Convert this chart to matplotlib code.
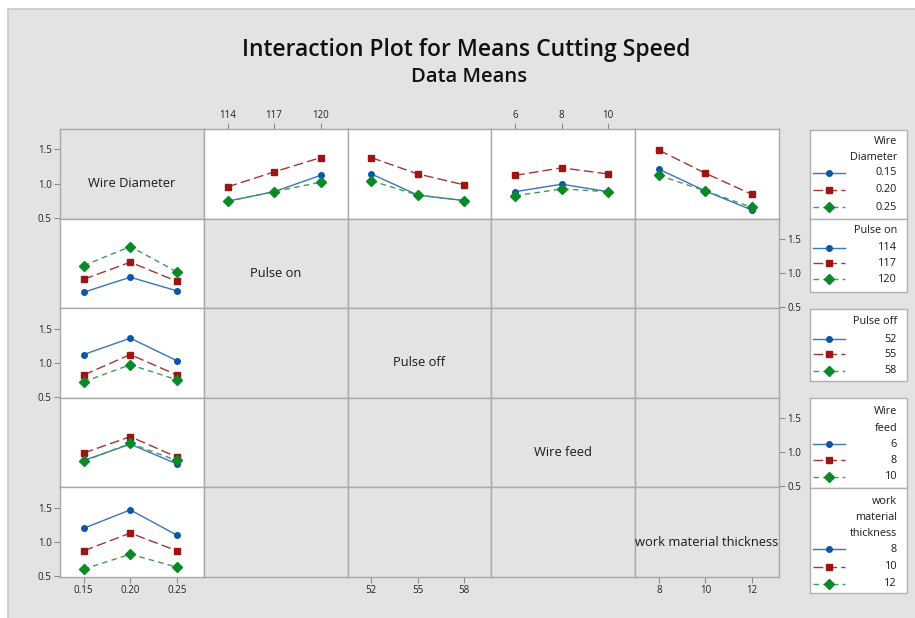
import numpy as np
import matplotlib.pyplot as plt
from matplotlib.patches import Rectangle

plt.rcParams['font.family'] = ['Open Sans', 'DejaVu Sans']

# factor names and levels
factors = ['Wire Diameter', 'Pulse on', 'Pulse off', 'Wire feed', 'work material thickness']
legend_titles = ['Wire\nDiameter', 'Pulse on', 'Pulse off', 'Wire\nfeed', 'work\nmaterial\nthickness']
wire_diam = ['0.15', '0.20', '0.25']
pulse_on = ['114', '117', '120']
pulse_off = ['52', '55', '58']
wire_feed = ['6', '8', '10']
thickness = ['8', '10', '12']
levels = [wire_diam, pulse_on, pulse_off, wire_feed, thickness]

# first row: x = factor j, traces = wire diameter (0.15, 0.20, 0.25)
wd_vs_pulse_on = [[0.74, 0.88, 1.12], [0.95, 1.17, 1.38], [0.74, 0.88, 1.02]]
wd_vs_pulse_off = [[1.14, 0.83, 0.75], [1.38, 1.14, 0.98], [1.04, 0.83, 0.75]]
wd_vs_wire_feed = [[0.88, 0.99, 0.88], [1.12, 1.23, 1.14], [0.82, 0.92, 0.88]]
wd_vs_thickness = [[1.21, 0.89, 0.61], [1.49, 1.15, 0.84], [1.12, 0.89, 0.65]]

# first column: x = wire diameter, traces = levels of factor i
pulse_on_vs_wd = [[0.72, 0.94, 0.74], [0.91, 1.16, 0.88], [1.11, 1.39, 1.02]]
pulse_off_vs_wd = [[1.12, 1.36, 1.03], [0.82, 1.12, 0.82], [0.72, 0.97, 0.75]]
wire_feed_vs_wd = [[0.88, 1.12, 0.83], [0.99, 1.23, 0.93], [0.87, 1.13, 0.88]]
thickness_vs_wd = [[1.20, 1.47, 1.10], [0.87, 1.13, 0.87], [0.60, 0.82, 0.63]]

row_data = {1: wd_vs_pulse_on, 2: wd_vs_pulse_off, 3: wd_vs_wire_feed, 4: wd_vs_thickness}
col_data = {1: pulse_on_vs_wd, 2: pulse_off_vs_wd, 3: wire_feed_vs_wd, 4: thickness_vs_wd}

# styles for the three traces
line_cols = ['#3a74bd', '#a53434', '#3f9c4f']
mark_cols = ['#0b56a6', '#9c1414', '#0a8a27']
markers = ['o', 's', 'D']
msizes = [4, 5, 5]
dashes = [None, (7, 3), (4, 3)]

W, H = 915, 618
fig = plt.figure(figsize=(W / 100, H / 100), dpi=100)
fig.patch.set_facecolor('white')

def px_axes(x0, y0, x1, y1, **kw):
    return fig.add_axes([x0 / W, 1 - y1 / H, (x1 - x0) / W, (y1 - y0) / H], **kw)

# background panel and overlay for text/legends
bg = px_axes(0, 0, W, H, zorder=-5)
bg.set_xlim(0, W)
bg.set_ylim(H, 0)
bg.axis('off')
bg.add_patch(Rectangle((8, 9), W, H, facecolor='#e3e3e3', edgecolor='#c8c8c8', lw=1.2))

bg.text(466, 50, 'Interaction Plot for Means Cutting Speed', ha='center', va='center',
        fontsize=16.5, fontweight='semibold', color='#111111')
bg.text(469, 77, 'Data Means', ha='center', va='center', fontsize=14.5,
        fontweight='semibold', color='#111111')

gx0, gx1, gy0, gy1 = 60, 779, 129, 577
cw = (gx1 - gx0) / 5
ch = (gy1 - gy0) / 5
xlim = (-0.51, 2.58)
ylim = (0.485, 1.80)
yt = [0.5, 1.0, 1.5]
grid_col = '#a9a9a9'

for i in range(5):
    for j in range(5):
        ax = px_axes(gx0 + j * cw, gy0 + i * ch, gx0 + (j + 1) * cw, gy0 + (i + 1) * ch)
        ax.set_xlim(*xlim)
        ax.set_ylim(*ylim)
        for s in ax.spines.values():
            s.set_color(grid_col)
            s.set_linewidth(1.0)
        ax.tick_params(length=4, width=0.8, color='#8c8c8c', labelsize=7,
                       labelcolor='#222222', pad=2)
        ax.set_xticks([])
        ax.set_yticks([])
        if (i == 0 and j > 0) or (j == 0 and i > 0):
            ax.set_facecolor('white')
            data = row_data[j] if i == 0 else col_data[i]
            xs = np.arange(3)
            for k in range(3):
                ln, = ax.plot(xs, data[k], color=line_cols[k], lw=1.0, marker=markers[k],
                              ms=msizes[k], mfc=mark_cols[k], mec=mark_cols[k])
                if dashes[k] is not None:
                    ln.set_dashes(dashes[k])
        else:
            ax.set_facecolor('#e3e3e3')
        if i == j:
            ax.text(0.5, 0.39, factors[i], transform=ax.transAxes, ha='center', va='center',
                    fontsize=9.3, color='#1a1a1a')
        # ticks on the outer edges, alternating
        if i == 0 and j in (1, 3):
            ax.xaxis.set_ticks_position('top')
            ax.set_xticks(range(3), levels[j])
        if i == 4 and j in (0, 2, 4):
            ax.set_xticks(range(3), levels[j])
        if j == 0 and i in (0, 2, 4):
            ax.set_yticks(yt, ['0.5', '1.0', '1.5'])
        if j == 4 and i in (1, 3):
            ax.yaxis.set_ticks_position('right')
            ax.set_yticks(yt, ['0.5', '1.0', '1.5'])

# legends on the right
boxes = [(130, 219), (219, 292), (309, 381), (398, 488), (488, 593)]
title_rows = [[141.7, 157.3], [230.7], [321.7], [411, 428.3], [501, 517.7, 533]]
item_rows = [[172.7, 190, 207.3], [247.7, 263.3, 279.3], [339.3, 354.3, 370.7],
             [444.3, 460.3, 476.7], [549.3, 566.7, 584]]
for n in range(5):
    y0, y1 = boxes[n]
    bg.add_patch(Rectangle((810, y0), 97, y1 - y0, facecolor='white', edgecolor='#b0b0b0',
                           lw=1.0, zorder=2))
    for t, ty in zip(legend_titles[n].split('\n'), title_rows[n]):
        bg.text(897, ty, t, ha='right', va='center', fontsize=7.8, color='#1a1a1a', zorder=3)
    for k, (lab, ty) in enumerate(zip(levels[n], item_rows[n])):
        ln, = bg.plot([813, 845], [ty, ty], color=line_cols[k], lw=1.0, zorder=3)
        if dashes[k] is not None:
            ln.set_dashes(dashes[k])
        bg.plot([829], [ty], marker=markers[k], ms=msizes[k], color=mark_cols[k], zorder=4)
        bg.text(897, ty, lab, ha='right', va='center', fontsize=7.8, color='#1a1a1a', zorder=3)

fig.savefig('out.png', dpi=100)
